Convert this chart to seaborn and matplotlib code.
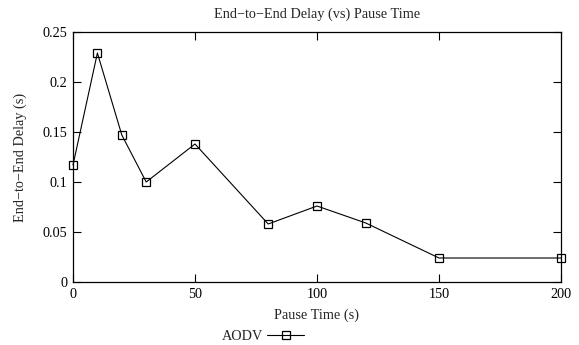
import matplotlib
matplotlib.use("Agg")
import matplotlib.pyplot as plt
import seaborn as sns
import pandas as pd

pause_time = [0, 10, 20, 30, 50, 80, 100, 120, 150, 200]
delay = [0.117, 0.229, 0.147, 0.100, 0.138, 0.058, 0.076, 0.059, 0.024, 0.024]
series_name = "AODV"
x_ticks = [0, 50, 100, 150, 200]
y_ticks = [0, 0.05, 0.1, 0.15, 0.2, 0.25]
y_tick_labels = ["0", "0.05", "0.1", "0.15", "0.2", "0.25"]

sns.set_style("ticks")
plt.rcParams['font.family'] = ['Liberation Serif', 'DejaVu Serif']
fs = 10.3
plt.rcParams['font.size'] = fs

df = pd.DataFrame({"Pause Time (s)": pause_time, "delay": delay, "series": series_name})

fig = plt.figure(figsize=(5.79, 3.45), dpi=100)
ax = fig.add_axes([73/579, 1-282/345, (561-73)/579, (282-32)/345])

sns.lineplot(data=df, x="Pause Time (s)", y="delay", ax=ax, color="black",
             marker="s", markersize=6, markerfacecolor="none", markeredgecolor="black",
             markeredgewidth=0.9, linewidth=0.8, label=series_name, legend=False)
for ln in ax.lines:
    ln.set_clip_on(False)
    ln.set_zorder(5)

ax.set_xlim(0, 200)
ax.set_ylim(0, 0.25)
ax.set_xticks(x_ticks)
ax.set_xticklabels([str(t) for t in x_ticks])
ax.set_yticks(y_ticks)
ax.set_yticklabels(y_tick_labels)
ax.tick_params(direction="in", length=5.5, width=0.8, top=True, right=True,
               labelsize=fs, colors="black", pad=4)
for s in ax.spines.values():
    s.set_linewidth(0.9)
    s.set_color("black")
ax.set_xlabel("Pause Time (s)", fontsize=fs, labelpad=6)
ax.set_ylabel("End\u2212to\u2212End Delay (s)", fontsize=fs, labelpad=11)
ax.set_title("End\u2212to\u2212End Delay (vs) Pause Time", fontsize=fs, pad=10)

handles, labels = ax.get_legend_handles_labels()
fig.legend(handles, labels, loc="center", bbox_to_anchor=(263/579, 1-336/345),
           frameon=False, markerfirst=False, handlelength=2.6, fontsize=fs,
           handletextpad=0.3, borderpad=0)

fig.savefig("out.png", dpi=100)
